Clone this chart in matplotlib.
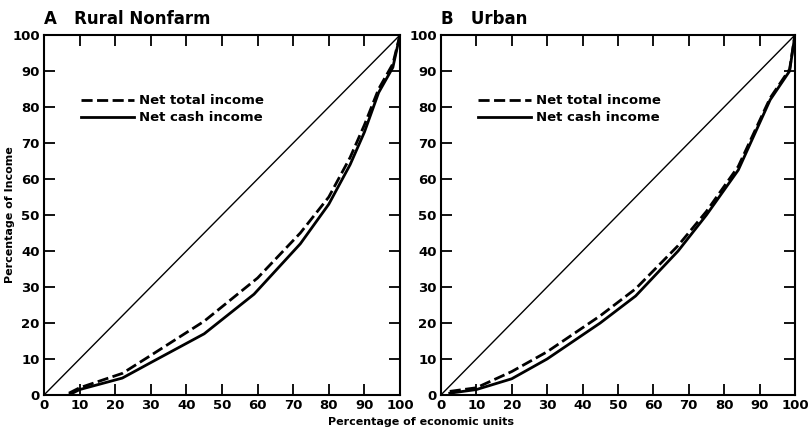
#! /usr/bin/env python3
""" Lorenz curves of income, rural nonfarm and urban units. """

import matplotlib
matplotlib.use('Agg')
import matplotlib.pyplot as plt

# Panel A: rural nonfarm
rural_total_x = [7, 10, 22, 30, 45, 60, 72, 80, 86, 90, 94, 98, 100]
rural_total_y = [0.5, 2, 6, 11, 20.5, 32.5, 45, 55, 66, 75, 85, 92, 100]
rural_cash_x = [7, 10, 22, 30, 45, 59, 72, 80, 86, 90, 94, 98, 100]
rural_cash_y = [0, 1.5, 4.7, 9, 17, 28, 42, 53, 64, 73, 84, 91, 100]

# Panel B: urban
urban_total_x = [2.5, 10, 20, 30, 45, 55, 67, 75, 84, 93, 98.5, 100]
urban_total_y = [1, 2, 6.5, 12, 22, 29.5, 41.5, 51, 63.5, 82.5, 90.5, 100]
urban_cash_x = [2.5, 10, 20, 30, 45, 55, 67, 75, 84, 93, 98.5, 100]
urban_cash_y = [0.5, 1.5, 4.5, 10, 20, 27.5, 40, 50, 62.5, 82, 90, 100]

ticks = list(range(0, 101, 10))

panels = [
    ('A', 'Rural Nonfarm', rural_total_x, rural_total_y, rural_cash_x, rural_cash_y),
    ('B', 'Urban', urban_total_x, urban_total_y, urban_cash_x, urban_cash_y),
]

if __name__ == "__main__":
    plt.rcParams['font.family'] = 'DejaVu Sans'
    plt.rcParams['font.weight'] = 'bold'
    fig = plt.figure(figsize=(8.09, 4.29), dpi=100)
    lefts = [0.0544, 0.545]
    widths = [0.44, 0.4376]

    for (letter, name, tx, ty, cx, cy), left, width in zip(panels, lefts, widths):
        ax = fig.add_axes([left, 0.0793, width, 0.839])
        ax.plot([0, 100], [0, 100], color='black', lw=1.0)
        ax.plot(tx, ty, color='black', lw=2.0, ls=(0, (4, 1.6)), label='Net total income')
        ax.plot(cx, cy, color='black', lw=2.0, label='Net cash income')
        ax.set_xlim(0, 100)
        ax.set_ylim(0, 100)
        ax.set_xticks(ticks)
        ax.set_yticks(ticks)
        ax.tick_params(direction='in', length=8, width=1.3, top=True, right=True,
                       labelsize=9.5, pad=3)
        for sp in ax.spines.values():
            sp.set_linewidth(1.5)
        ax.text(0.0, 1.02, letter + '   ' + name, transform=ax.transAxes,
                fontsize=12, fontweight='bold', va='bottom', ha='left')
        ax.legend(loc='upper left', bbox_to_anchor=(0.09, 0.85), frameon=False,
                  handlelength=4, handletextpad=0.4, fontsize=9.5, labelspacing=0.3,
                  borderaxespad=0)

    fig.text(0.012, 0.5, 'Percentage of Income', rotation=90, ha='center',
             va='center', fontsize=8)
    fig.text(0.52, 0.016, 'Percentage of economic units', ha='center',
             va='center', fontsize=8)
    fig.savefig('out.png', dpi=100)
